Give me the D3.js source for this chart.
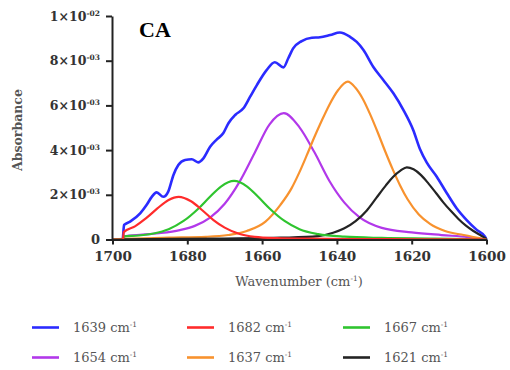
<!DOCTYPE html>
<html>
<head>
<meta charset="utf-8">
<script src="https://cdn.jsdelivr.net/npm/d3@7"></script>
<style>
  body { margin: 0; background: #fff; }
  svg { display: block; }
</style>
</head>
<body>
<svg id="chart" width="510" height="370"></svg>
<script>
// ---- axis ticks ----
const xTicks = [1700, 1680, 1660, 1640, 1620, 1600];
const yTicks = [0, 0.002, 0.004, 0.006, 0.008, 0.01];
const yTickMantissa = ["0", "2", "4", "6", "8", "1"];
const yTickExponent = ["", "-03", "-03", "-03", "-03", "-02"];

// ---- spectra: wavenumber (cm-1) and absorbance in units of 1e-3 ----
const measuredWn = [1700, 1697.3, 1696.9, 1695.3, 1692.6, 1690.9, 1689.5, 1688.2, 1686.4, 1685.1,
  1683.7, 1682.4, 1680.6, 1678.8, 1677.1, 1675.7, 1673.9, 1672.1, 1670.4, 1669.0,
  1667.2, 1665.0, 1663.2, 1661.4, 1658.8, 1656.6, 1654.3, 1653.0, 1651.7, 1649.4,
  1646.7, 1644.5, 1641.8, 1639.2, 1636.5, 1634.7, 1632.9, 1630.3, 1627.6, 1624.9,
  1622.2, 1619.6, 1617.8, 1616.0, 1613.3, 1610.6, 1608.0, 1605.3, 1602.6, 1600.4, 1600];
const measuredAbs = [0, 0, 0.65, 0.80, 1.17, 1.54, 1.91, 2.11, 1.91, 2.14,
  2.89, 3.33, 3.56, 3.59, 3.45, 3.63, 4.15, 4.48, 4.75, 5.20,
  5.57, 5.87, 6.39, 6.91, 7.58, 7.93, 7.70, 8.11, 8.55, 8.88,
  9.03, 9.05, 9.15, 9.26, 9.07, 8.84, 8.48, 7.73, 7.14, 6.54,
  5.79, 4.90, 4.05, 3.45, 2.81, 2.07, 1.40, 0.87, 0.43, 0.13, 0];

const band1682Wn = [1700, 1697.2, 1697, 1694, 1691, 1688, 1685, 1682.3, 1679, 1676, 1673, 1670,
  1666, 1662, 1656, 1648, 1638, 1626, 1612, 1600];
const band1682Abs = [0, 0, 0.33, 0.59, 0.955, 1.39, 1.77, 1.91, 1.71, 1.31, 0.87, 0.53,
  0.245, 0.12, 0.06, 0.035, 0.021, 0.013, 0.009, 0];

const band1667Wn = [1700, 1697.2, 1697, 1693, 1689, 1685, 1681, 1677, 1674, 1671, 1667.5, 1664,
  1661, 1658, 1654, 1650, 1645, 1638, 1628, 1614, 1600];
const band1667Abs = [0, 0, 0.14, 0.18, 0.27, 0.46, 0.83, 1.39, 1.90, 2.37, 2.62, 2.37,
  1.90, 1.39, 0.83, 0.46, 0.24, 0.125, 0.071, 0.04, 0];

const band1654Wn = [1700, 1697.2, 1697, 1692, 1687, 1682, 1678, 1674, 1670, 1666, 1662, 1658,
  1654.2, 1650, 1646, 1642, 1638, 1634, 1628, 1620, 1612, 1605, 1600];
const band1654Abs = [0, 0, 0.14, 0.22, 0.29, 0.42, 0.61, 0.97, 1.60, 2.59, 3.87, 5.15,
  5.65, 5.02, 3.90, 2.62, 1.65, 1.0, 0.52, 0.32, 0.2, 0.11, 0];

const band1637Wn = [1700, 1697, 1685, 1675, 1669.1, 1664.1, 1659.1, 1655.1, 1652.1, 1650.1, 1648.1,
  1646.1, 1644.1, 1642.1, 1639.6, 1637.1, 1635.1, 1633.1, 1631.1, 1629.1, 1627.1, 1625.1,
  1623.1, 1621.1, 1618.1, 1615.1, 1611.1, 1606.1, 1600];
const band1637Abs = [0, 0.03, 0.08, 0.12, 0.2, 0.38, 0.8, 1.55, 2.3, 2.98, 3.75,
  4.55, 5.3, 6.0, 6.7, 7.06, 6.8, 6.3, 5.6, 4.8, 3.95, 3.15,
  2.42, 1.80, 1.12, 0.70, 0.38, 0.2, 0];

const band1621Wn = [1700, 1697, 1670, 1655, 1645, 1641, 1638, 1635, 1632, 1629.5, 1627, 1625,
  1623, 1621.3, 1619.5, 1617.5, 1615.5, 1613.5, 1611.5, 1609.5, 1607.5, 1605.5, 1603.5, 1601.5, 1600];
const band1621Abs = [0, 0.01, 0.04, 0.08, 0.15, 0.3, 0.5, 0.82, 1.3, 1.85, 2.4, 2.8,
  3.08, 3.23, 3.14, 2.88, 2.5, 2.08, 1.65, 1.27, 0.92, 0.62, 0.38, 0.18, 0.03];

const legendLabels = ["1639", "1682", "1667", "1654", "1637", "1621"];
const UNIT = 1e-3;

// series in legend order; drawOrder sets stacking on the plot
const series = [
  { label: legendLabels[0], wn: measuredWn, abs: measuredAbs, color: "#2b2bff", width: 2.6, drawOrder: 0 },
  { label: legendLabels[1], wn: band1682Wn, abs: band1682Abs, color: "#ff2b2b", width: 2.2, drawOrder: 5 },
  { label: legendLabels[2], wn: band1667Wn, abs: band1667Abs, color: "#2fc42f", width: 2.2, drawOrder: 4 },
  { label: legendLabels[3], wn: band1654Wn, abs: band1654Abs, color: "#b238ea", width: 2.2, drawOrder: 1 },
  { label: legendLabels[4], wn: band1637Wn, abs: band1637Abs, color: "#f8922e", width: 2.2, drawOrder: 2 },
  { label: legendLabels[5], wn: band1621Wn, abs: band1621Abs, color: "#242424", width: 2.2, drawOrder: 3 }
];

const svg = d3.select("#chart");
const x = d3.scaleLinear().domain([1700, 1600]).range([112.5, 486.5]);
const y = d3.scaleLinear().domain([0, 0.01]).range([239.5, 16]);

const serif = "'DejaVu Serif', serif";

// ---- curves ----
const line = d3.line()
  .x(d => x(d[0]))
  .y(d => y(d[1] * UNIT))
  .curve(d3.curveMonotoneX);

svg.append("g")
  .selectAll("path")
  .data(series.slice().sort((a, b) => a.drawOrder - b.drawOrder))
  .join("path")
  .attr("fill", "none")
  .attr("stroke", d => d.color)
  .attr("stroke-width", d => d.width)
  .attr("stroke-linejoin", "round")
  .attr("d", d => line(d.wn.map((w, i) => [w, d.abs[i]])));

// ---- axes ----
const xAxis = svg.append("g")
  .attr("transform", `translate(0,${y(0)})`)
  .call(d3.axisBottom(x).tickValues(xTicks).tickSize(5).tickSizeOuter(0).tickFormat(d3.format("d")));
xAxis.select(".domain").attr("stroke", "#222").attr("stroke-width", 2);
xAxis.selectAll(".tick line").attr("stroke", "#222").attr("stroke-width", 2);
xAxis.selectAll(".tick text")
  .attr("y", 12)
  .attr("font-family", serif)
  .attr("font-weight", "bold")
  .attr("font-size", 13.5)
  .attr("fill", "#333");

const yAxis = svg.append("g")
  .attr("transform", `translate(${x(1700) - 0.5},0)`)
  .call(d3.axisLeft(y).tickValues(yTicks).tickSize(6).tickSizeOuter(0).tickFormat(""));
yAxis.select(".domain").attr("stroke", "#222").attr("stroke-width", 2);
yAxis.selectAll(".tick line").attr("stroke", "#222").attr("stroke-width", 2);

const yLabels = svg.append("g")
  .selectAll("text")
  .data(yTicks)
  .join("text")
  .attr("x", 100)
  .attr("y", d => y(d) + 4.5)
  .attr("text-anchor", "end")
  .attr("font-family", serif)
  .attr("font-weight", "bold")
  .attr("fill", "#333");
yLabels.each(function (d, i) {
  const t = d3.select(this);
  if (yTickExponent[i] === "") {
    t.append("tspan").attr("font-size", 13).text(yTickMantissa[i]);
  } else {
    t.append("tspan").attr("font-size", 12.5).text(yTickMantissa[i] + "\u00d710");
    t.append("tspan").attr("font-size", 7.5).attr("dy", -5).text(yTickExponent[i]);
  }
});

// ---- titles ----
const xTitle = svg.append("text")
  .attr("x", 299)
  .attr("y", 286)
  .attr("text-anchor", "middle")
  .attr("font-family", serif)
  .attr("font-size", 13)
  .attr("fill", "#555");
xTitle.append("tspan").text("Wavenumber (cm");
xTitle.append("tspan").attr("font-size", 7.5).attr("dy", -5).text("-1");
xTitle.append("tspan").attr("dy", 5).text(")");

svg.append("text")
  .attr("transform", "translate(22,130) rotate(-90)")
  .attr("text-anchor", "middle")
  .attr("font-family", serif)
  .attr("font-weight", "bold")
  .attr("font-size", 12.5)
  .attr("fill", "#555")
  .text("Absorbance");

svg.append("text")
  .attr("x", 139)
  .attr("y", 37)
  .attr("font-family", "'Liberation Serif', serif")
  .attr("font-weight", "bold")
  .attr("font-size", 22)
  .attr("fill", "#000")
  .text("CA");

// ---- legend ----
const legendCols = [32, 187, 343];
const legendRows = [327.5, 357.5];
const legend = svg.append("g")
  .selectAll("g")
  .data(series)
  .join("g")
  .attr("transform", (d, i) => `translate(${legendCols[i % 3]},${legendRows[Math.floor(i / 3)]})`);
legend.append("line")
  .attr("x1", 0).attr("x2", 27)
  .attr("stroke", d => d.color)
  .attr("stroke-width", 2.6);
const legendText = legend.append("text")
  .attr("x", 41)
  .attr("y", 4.5)
  .attr("font-family", serif)
  .attr("font-size", 13)
  .attr("fill", "#555");
legendText.append("tspan").text(d => d.label + " cm");
legendText.append("tspan").attr("font-size", 7.5).attr("dy", -5).text("-1");
</script>
</body>
</html>
